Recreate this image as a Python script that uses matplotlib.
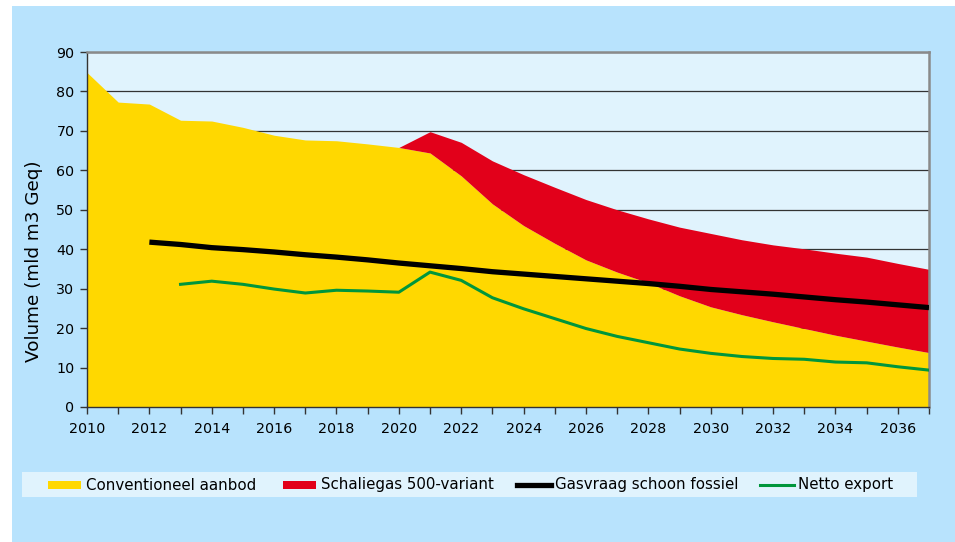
import matplotlib
matplotlib.use("Agg")
import matplotlib.pyplot as plt
from matplotlib.patches import Rectangle
from matplotlib.lines import Line2D

years = list(range(2010, 2038))
conventioneel = [84.8, 77.3, 76.8, 72.7, 72.5, 70.9, 68.9, 67.7, 67.5, 66.7, 65.8, 64.4,
                 58.6, 51.5, 46.0, 41.5, 37.3, 34.2, 31.5, 28.2, 25.4, 23.4, 21.6, 19.9,
                 18.2, 16.7, 15.2, 13.8]
schalie_years = list(range(2020, 2038))
schalie_top = [65.8, 69.8, 67.1, 62.4, 58.9, 55.7, 52.6, 50.0, 47.7, 45.6, 44.0, 42.4,
               41.1, 40.1, 39.0, 38.0, 36.4, 34.9]
vraag_years = list(range(2012, 2038))
gasvraag = [41.8, 41.2, 40.4, 39.9, 39.3, 38.6, 38.0, 37.3, 36.5, 35.8, 35.1, 34.3,
            33.7, 33.1, 32.5, 31.9, 31.3, 30.6, 29.8, 29.2, 28.6, 27.9, 27.2, 26.6,
            25.9, 25.2]
export_years = list(range(2013, 2038))
netto_export = [31.1, 31.9, 31.1, 29.9, 28.9, 29.6, 29.4, 29.1, 34.2, 32.1, 27.7, 24.9,
                22.4, 19.9, 17.9, 16.3, 14.7, 13.6, 12.8, 12.3, 12.1, 11.4, 11.2, 10.2, 9.35]
labels = ["Conventioneel aanbod", "Schaliegas 500-variant", "Gasvraag schoon fossiel", "Netto export"]

YELLOW = "#FFD800"
RED = "#E2001A"
GREEN = "#00963C"
FIGBG = "#B8E3FD"
AXBG = "#E0F3FD"

fig = plt.figure(figsize=(9.55, 5.42), dpi=100, facecolor="white")
fig.add_artist(Rectangle((12/955, 0), 1 - 12/955, 1 - 6/542, transform=fig.transFigure,
                         facecolor=FIGBG, edgecolor="none", zorder=-10))

ax = fig.add_axes([87/955, 1 - 407/542, (929 - 87)/955, (407 - 52)/542])
ax.set_facecolor(AXBG)

ax.fill_between(years, 0, conventioneel, color=YELLOW, lw=0, zorder=2)
conv_sub = conventioneel[years.index(2020):]
ax.fill_between(schalie_years, conv_sub, schalie_top, color=RED, lw=0, zorder=2)
ax.plot(vraag_years, gasvraag, color="black", lw=3.8, zorder=4, solid_capstyle="butt")
ax.plot(export_years, netto_export, color=GREEN, lw=2.2, zorder=3)

ax.set_xlim(2010, 2037)
ax.set_ylim(0, 90)
ax.set_yticks(range(0, 91, 10))
ax.set_xticks(years, minor=False)
ax.set_xticklabels([str(y) if y % 2 == 0 and y < 2037 else "" for y in years])
ax.yaxis.grid(True, color="#333333", lw=0.9, zorder=1)
ax.set_axisbelow(True)
ax.tick_params(axis="both", direction="out", length=5, width=1, color="#333333",
               labelsize=10.3, labelcolor="black")
ax.tick_params(axis="x", pad=6)
ax.tick_params(axis="y", pad=4)
for s in ["left", "bottom"]:
    ax.spines[s].set_color("#333333")
    ax.spines[s].set_linewidth(1)
for s in ["top", "right"]:
    ax.spines[s].set_color("#8A8A8A")
    ax.spines[s].set_linewidth(1.8)
ax.set_ylabel("Volume (mld m3 Geq)", fontsize=13.2)
ax.yaxis.set_label_coords((43 - 87)/842, 0.411)

# legend box
fig.add_artist(Rectangle((22/955, 1 - 497/542), (917 - 22)/955, 25/542,
                         transform=fig.transFigure, facecolor=AXBG, edgecolor="none", zorder=1))
ly = 1 - 485/542
entries = [(48, "patch", YELLOW, labels[0]),
           (283, "patch", RED, labels[1]),
           (517, "line", "black", labels[2]),
           (760, "line", GREEN, labels[3])]
for x0, kind, col, lab in entries:
    if kind == "patch":
        fig.add_artist(Rectangle((x0/955, ly - 4/542), 33/955, 8/542, transform=fig.transFigure,
                                 facecolor=col, edgecolor="none", zorder=2))
    else:
        fig.add_artist(Line2D([x0/955, (x0 + 34)/955], [ly, ly], transform=fig.transFigure,
                              color=col, lw=3.8 if col == "black" else 2.2, zorder=2))
    fig.text((x0 + 38)/955, ly, lab, fontsize=10.8, va="center", ha="left", zorder=3)

fig.savefig("out.png", dpi=100, facecolor=fig.get_facecolor())
